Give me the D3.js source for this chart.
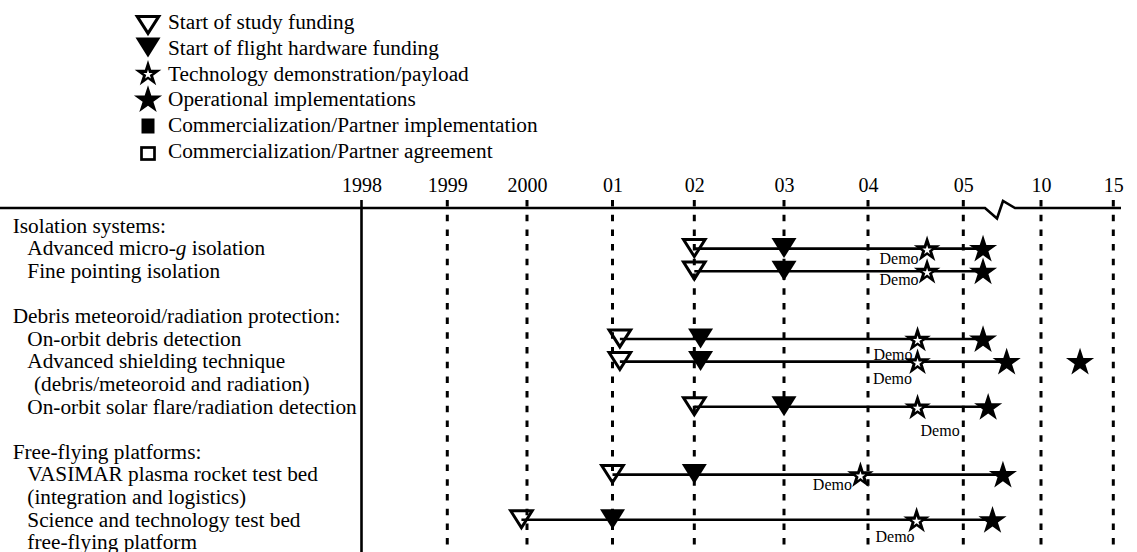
<!DOCTYPE html>
<html><head><meta charset="utf-8">
<script src="https://cdn.jsdelivr.net/npm/d3@7"></script>
<style>
html,body{margin:0;padding:0;background:#fff;}
svg{display:block;}
svg text{font-family:"Liberation Serif","Times New Roman",Times,serif;}
</style></head><body>
<svg id="chart" width="1137" height="552"></svg>
<script>
// ---------- data ----------
const tickYears  = [1998, 1999, 2000, 2001, 2002, 2003, 2004, 2005, 2010, 2015];
const tickLabels = ["1998", "1999", "2000", "01", "02", "03", "04", "05", "10", "15"];

const legendSymbols = ["studyStart", "hardwareStart", "demo", "operational", "partnerImpl", "partnerAgree"];
const legendLabels = [
  "Start of study funding",
  "Start of flight hardware funding",
  "Technology demonstration/payload",
  "Operational implementations",
  "Commercialization/Partner implementation",
  "Commercialization/Partner agreement"
];

const labelText = [
  "Isolation systems:",
  "Advanced micro-g isolation",
  "Fine pointing isolation",
  "",
  "Debris meteoroid/radiation protection:",
  "On-orbit debris detection",
  "Advanced shielding technique",
  "(debris/meteoroid and radiation)",
  "On-orbit solar flare/radiation detection",
  "",
  "Free-flying platforms:",
  "VASIMAR plasma rocket test bed",
  "(integration and logistics)",
  "Science and technology test bed",
  "free-flying platform"
];
const labelLevel = [0, 1, 1, 0, 0, 1, 1, 2, 1, 0, 0, 1, 1, 1, 1];

// timeline rows: which label line each row sits on
const rowLine       = [1, 2, 5, 6, 8, 11, 13];
const studyStart    = [2002, 2002, 2001.09, 2001.09, 2002, 2001, 1999.93];
const hardwareStart = [2003, 2003, 2002.07, 2002.07, 2003, 2002, 2001];
const demoPayload   = [2004.62, 2004.62, 2004.52, 2004.52, 2004.52, 2003.91, 2004.51];
const operational   = [[2006.27], [2006.27], [2006.27], [2007.79, 2012.7], [2006.6], [2007.55], [2006.88]];
const demoLabel     = "Demo";

// ---------- layout ----------
const svg = d3.select("#chart");
svg.append("rect").attr("width", 1137).attr("height", 552).attr("fill", "#fff");

const axisY = 208;
const x = d3.scaleLinear()
  .domain(tickYears)
  .range([361.5, 447.3, 527, 612.5, 694.3, 784, 868, 963.3, 1041, 1113.3]);
const y = d3.scaleLinear().domain([0, 14]).range([226, 542.4]);

// demo label placement [dx, dy, anchor]
const demoPlace = [[-8.5, 15.5, "end"], [-8.5, 14, "end"], [-5, 20.5, "end"], [-5.5, 22.5, "end"],
                   [3, 29, "start"], [-8.5, 15.5, "end"], [-2, 22, "end"]];

const starSize = r => r * r / 0.8908130915292852;

function drawSymbol(g, type, cx, cy) {
  switch (type) {
    case "studyStart":
      g.append("path")
        .attr("d", `M${cx - 10.8},${cy - 8.6}L${cx + 10.8},${cy - 8.6}L${cx},${cy + 8.4}Z`)
        .attr("fill", "none").attr("stroke", "#000").attr("stroke-width", 3)
        .attr("stroke-linejoin", "miter");
      break;
    case "hardwareStart":
      g.append("path")
        .attr("d", `M${cx - 12.5},${cy - 10.5}L${cx + 12.5},${cy - 10.5}L${cx},${cy + 9.5}Z`)
        .attr("fill", "#000");
      break;
    case "demo":
      g.append("path").attr("transform", `translate(${cx},${cy + 1})`)
        .attr("d", d3.symbol().type(d3.symbolStar).size(starSize(14))())
        .attr("fill", "#000");
      g.append("path").attr("transform", `translate(${cx},${cy + 1.5})`)
        .attr("d", d3.symbol().type(d3.symbolStar).size(starSize(5))())
        .attr("fill", "#fff");
      break;
    case "operational":
      g.append("path").attr("transform", `translate(${cx},${cy + 1})`)
        .attr("d", d3.symbol().type(d3.symbolStar).size(starSize(14.8))())
        .attr("fill", "#000");
      break;
    case "partnerImpl":
      g.append("rect").attr("x", cx - 6.5).attr("y", cy - 7.5).attr("width", 13).attr("height", 15)
        .attr("fill", "#000");
      break;
    case "partnerAgree":
      g.append("rect").attr("x", cx - 6.5).attr("y", cy - 6).attr("width", 13).attr("height", 12)
        .attr("fill", "none").attr("stroke", "#000").attr("stroke-width", 2.7);
      break;
  }
}

// ---------- legend ----------
const legend = svg.append("g");
const legendY = d3.scaleLinear().domain([0, 5]).range([22.5, 151]);
const legendMarkY = [25, 48, 73, 99, 126, 153.5];
legendSymbols.forEach((s, i) => {
  drawSymbol(legend, s, 148, legendMarkY[i]);
  legend.append("text").attr("x", 168).attr("y", legendY(i) + 6.8)
    .attr("font-size", 21.3).attr("fill", "#000").text(legendLabels[i]);
});

// ---------- grid lines ----------
const grid = svg.append("g");
tickYears.forEach((t, i) => {
  grid.append("line")
    .attr("x1", x(t)).attr("x2", x(t)).attr("y1", 200).attr("y2", 552)
    .attr("stroke", "#000").attr("stroke-width", i === 0 ? 2.6 : 3)
    .attr("stroke-dasharray", i === 0 ? null : "6.5,8.2");
});

// ---------- axis ----------
const axis = d3.axisTop(x).tickValues(tickYears)
  .tickFormat((d, i) => tickLabels[i]).tickSize(0).tickPadding(16.3);
const axisG = svg.append("g").attr("transform", `translate(0,${axisY})`).call(axis);
axisG.attr("font-family", null).attr("font-size", null);
axisG.select(".domain").remove();
axisG.selectAll("text")
  .style("font-family", "'Liberation Serif','Times New Roman',serif")
  .style("font-size", "20px").attr("fill", "#000").attr("dy", 0);

const bx = 985;
svg.append("path")
  .attr("d", `M0,${axisY}L${bx},${axisY}L${bx + 12},${axisY + 10.5}L${bx + 18},${axisY - 7}L${bx + 30},${axisY}L1121,${axisY}`)
  .attr("fill", "none").attr("stroke", "#000").attr("stroke-width", 2.6)
  .attr("stroke-linejoin", "miter");

// ---------- timelines ----------
const rows = svg.append("g");
rowLine.forEach((li, r) => {
  const ry = y(li);
  rows.append("line")
    .attr("x1", x(studyStart[r])).attr("x2", x(operational[r][0]))
    .attr("y1", ry).attr("y2", ry)
    .attr("stroke", "#000").attr("stroke-width", 2.6);
});
rowLine.forEach((li, r) => {
  const ry = y(li);
  drawSymbol(rows, "studyStart", x(studyStart[r]), ry - 0.5);
  drawSymbol(rows, "hardwareStart", x(hardwareStart[r]), ry);
  drawSymbol(rows, "demo", x(demoPayload[r]), ry);
  operational[r].forEach(v => drawSymbol(rows, "operational", x(v), ry));
  const p = demoPlace[r];
  rows.append("text")
    .attr("x", x(demoPayload[r]) + p[0]).attr("y", ry + p[1])
    .attr("text-anchor", p[2]).attr("font-size", 16).attr("fill", "#000")
    .text(demoLabel);
});

// ---------- row labels ----------
const labels = svg.append("g");
const levelX = [12.7, 27.3, 34];
labelText.forEach((t, i) => {
  if (!t) return;
  const tx = labels.append("text").attr("x", levelX[labelLevel[i]]).attr("y", y(i) + 6.8)
    .attr("font-size", 21.3).attr("fill", "#000");
  const m = t.match(/^(.*micro-)(g)(.*)$/);
  if (m) {
    tx.append("tspan").text(m[1]);
    tx.append("tspan").attr("font-style", "italic").text(m[2]);
    tx.append("tspan").text(m[3]);
  } else {
    tx.text(t);
  }
});
</script>
</body></html>
